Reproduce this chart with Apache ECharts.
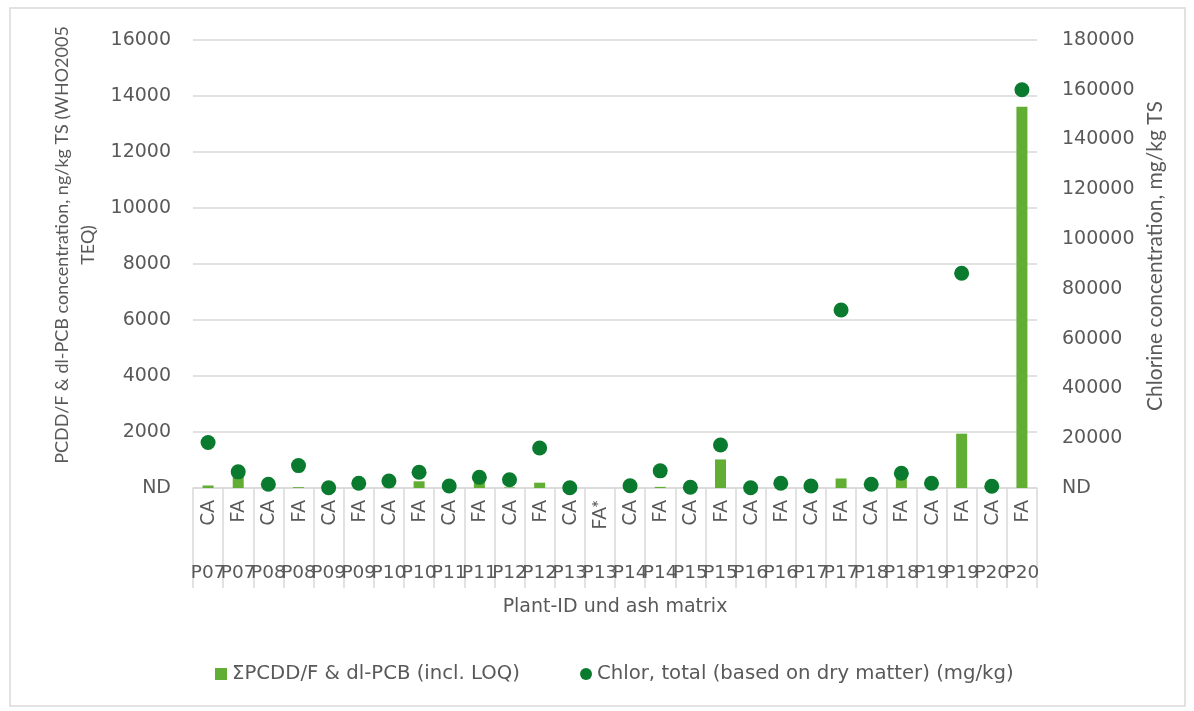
<!DOCTYPE html>
<html>
<head>
<meta charset="utf-8">
<script src="https://cdn.jsdelivr.net/npm/echarts@6/dist/echarts.min.js"></script>
<style>
  html, body { margin: 0; padding: 0; background: #fff; }
  #chart { width: 1194px; height: 711px; }
</style>
</head>
<body>
<div id="chart"></div>
<script>
// ash matrix per sample (inner label row) and plant id (outer label row)
var matrix = ['CA','FA','CA','FA','CA','FA','CA','FA','CA','FA','CA','FA','CA','FA*',
              'CA','FA','CA','FA','CA','FA','CA','FA','CA','FA','CA','FA','CA','FA'];
var plants = ['P07','P07','P08','P08','P09','P09','P10','P10','P11','P11','P12','P12','P13','P13',
              'P14','P14','P15','P15','P16','P16','P17','P17','P18','P18','P19','P19','P20','P20'];

// ΣPCDD/F & dl-PCB, ng/kg TS (WHO2005 TEQ)
var pcdd = [90, 400, 20, 30, 10, 30, 20, 240, 10, 200, 20, 190, 10, null,
            10, 40, 10, 1020, 10, 30, 10, 340, 20, 380, 20, 1940, 10, 13620];
// chlorine total, mg/kg
var chlor = [18300, 6500, 1500, 9000, 100, 1900, 2800, 6300, 800, 4300, 3300, 16100, 100, null,
             900, 6900, 300, 17300, 100, 1900, 800, 71500, 1500, 5900, 1900, 86300, 700, 160000];

var leftTicks = { min: 0, max: 16000, step: 2000 };
var rightTicks = { min: 0, max: 180000, step: 20000 };

var font = 'Lato';
var wide = 'DejaVu Sans';   // horizontal texts look stretched in the original
var grey = '#595959';
var lineGrey = '#d9d9d9';
var barColor = '#62ae35';
var dotColor = '#0a7a2e';

function nd(v) { return v === 0 ? 'ND' : String(v); }

function draw() {
  var chart = echarts.init(document.getElementById('chart'));
  chart.setOption({
    animation: false,
    textStyle: { fontFamily: font },
    grid: { left: 193, right: 157, top: 40, bottom: 223, containLabel: false },
    xAxis: [
      {
        type: 'category',
        data: matrix,
        position: 'bottom',
        axisLine: { show: true, lineStyle: { color: lineGrey, width: 1.5 } },
        axisTick: { show: true, interval: 0, length: 100, lineStyle: { color: lineGrey, width: 1.5 } },
        axisLabel: { interval: 0, rotate: 90, margin: 12, fontSize: 19, color: grey, fontFamily: font }
      },
      {
        type: 'category',
        data: plants,
        position: 'bottom',
        axisLine: { show: false },
        axisTick: { show: false },
        axisLabel: { interval: 0, margin: 76, fontSize: 18.5, color: grey, fontFamily: wide },
        name: 'Plant-ID und ash matrix',
        nameLocation: 'middle',
        nameGap: 110,
        nameTextStyle: { fontSize: 19, color: grey, fontFamily: wide }
      }
    ],
    yAxis: [
      {
        type: 'value',
        min: leftTicks.min, max: leftTicks.max, interval: leftTicks.step,
        axisLine: { show: false },
        axisTick: { show: false },
        axisLabel: { formatter: nd, fontSize: 19, color: grey, margin: 22, fontFamily: wide },
        splitLine: { show: true, lineStyle: { color: lineGrey, width: 1.5 } }
      },
      {
        type: 'value',
        min: rightTicks.min, max: rightTicks.max, interval: rightTicks.step,
        position: 'right',
        axisLine: { show: false },
        axisTick: { show: false },
        axisLabel: { formatter: nd, fontSize: 19, color: grey, margin: 25, fontFamily: wide },
        splitLine: { show: false }
      }
    ],
    legend: {
      bottom: 22,
      left: 210,
      itemGap: 60,
      textStyle: { fontSize: 19.7, color: grey, fontFamily: wide },
      data: [
        { name: 'ΣPCDD/F & dl-PCB (incl. LOQ)', icon: 'rect', itemStyle: { color: barColor } },
        { name: 'Chlor, total (based on dry matter) (mg/kg)', icon: 'circle', itemStyle: { color: dotColor } }
      ],
      itemWidth: 12,
      itemHeight: 12
    },
    graphic: [
      {
        type: 'rect',
        shape: { x: 10, y: 8, width: 1175, height: 698 },
        style: { fill: 'none', stroke: lineGrey, lineWidth: 1.5 },
        silent: true
      },
      {
        type: 'text',
        x: 75, y: 245,
        rotation: Math.PI / 2,
        style: {
          text: 'PCDD/F & dl-PCB concentration, ng/kg TS (WHO2005\nTEQ)',
          align: 'center', verticalAlign: 'middle',
          fontSize: 18, fontFamily: font, fill: grey, lineHeight: 26
        }
      },
      {
        type: 'text',
        x: 1155, y: 256,
        rotation: Math.PI / 2,
        style: {
          text: 'Chlorine concentration, mg/kg TS',
          align: 'center', verticalAlign: 'middle',
          fontSize: 21, fontFamily: font, fill: grey
        }
      }
    ],
    series: [
      {
        name: 'ΣPCDD/F & dl-PCB (incl. LOQ)',
        type: 'bar',
        xAxisIndex: 0, yAxisIndex: 0,
        barWidth: 11,
        itemStyle: { color: barColor },
        data: pcdd
      },
      {
        name: 'Chlor, total (based on dry matter) (mg/kg)',
        type: 'scatter',
        xAxisIndex: 0, yAxisIndex: 1,
        symbol: 'circle',
        symbolSize: 15,
        itemStyle: { color: dotColor, opacity: 1 },
        data: chlor
      }
    ]
  });
}

// make sure both faces are ready before the canvas measures text
Promise.all([
  document.fonts.load('19px Lato'),
  document.fonts.load('19px "DejaVu Sans"')
]).then(draw, draw);
</script>
</body>
</html>
